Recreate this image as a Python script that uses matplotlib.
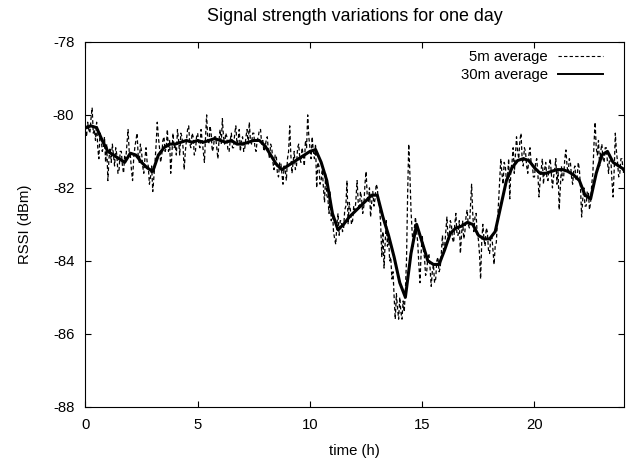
import numpy as np
import matplotlib
matplotlib.use("Agg")
import matplotlib.pyplot as plt

plt.rcParams['font.family'] = ['Liberation Sans', 'DejaVu Sans']
plt.rcParams['font.size'] = 10.7
plt.rcParams['axes.unicode_minus'] = False

# 5 minute average, one value every 0.05 h (one row per hour)
rssi_5m = [
    -80.3, -80.6, -80.2, -80.4, -80.5, -80.1, -79.8, -80.5, -80.4, -80.7, -80.2, -80.9, -81.2, -80.5, -80.6, -81.0, -80.9, -80.6, -81.3, -80.8,
    -81.8, -81.2, -80.9, -81.3, -80.8, -81.1, -81.4, -80.9, -81.1, -81.6, -81.5, -81.0, -81.0, -81.4, -81.6, -81.1, -81.2, -80.8, -80.4, -81.0,
    -81.1, -81.5, -81.8, -81.2, -80.9, -80.7, -80.5, -81.1, -81.3, -80.8, -81.0, -81.4, -81.6, -81.2, -80.9, -81.3, -81.4, -81.9, -81.7, -81.4,
    -82.1, -81.7, -81.3, -80.8, -80.2, -80.6, -80.9, -81.3, -81.1, -80.7, -80.6, -81.0, -80.9, -80.4, -81.0, -80.7, -81.6, -81.1, -80.5, -80.9,
    -80.8, -81.1, -80.4, -80.7, -81.1, -80.5, -80.6, -80.9, -81.5, -81.0, -80.7, -80.4, -80.3, -80.8, -80.9, -80.5, -80.6, -81.1, -81.0, -80.6,
    -80.5, -80.8, -80.9, -80.4, -80.7, -81.0, -81.3, -80.6, -80.0, -80.7, -80.8, -80.3, -80.5, -81.0, -80.9, -80.6, -80.6, -80.9, -81.2, -80.7,
    -80.4, -80.8, -80.1, -80.6, -80.8, -80.5, -80.6, -81.0, -81.0, -80.7, -80.5, -80.9, -80.9, -80.5, -80.3, -80.8, -80.7, -80.4, -81.0, -80.7,
    -80.6, -81.0, -80.9, -80.6, -80.4, -80.8, -80.2, -80.7, -80.8, -80.5, -80.5, -80.9, -81.0, -80.7, -80.6, -80.4, -80.4, -80.8, -80.7, -81.0,
    -80.9, -80.7, -80.6, -81.0, -81.2, -80.8, -80.9, -81.3, -81.5, -81.1, -81.1, -81.6, -81.7, -81.3, -81.3, -81.6, -81.9, -81.4, -81.5, -81.8,
    -81.2, -81.0, -80.3, -81.1, -81.6, -81.3, -81.0, -81.5, -81.4, -80.9, -80.8, -81.2, -81.3, -80.9, -81.1, -81.4, -80.7, -80.9, -80.0, -80.6,
    -80.9, -81.2, -80.6, -81.0, -81.2, -80.8, -82.0, -81.3, -81.4, -81.9, -81.8, -81.5, -82.0, -82.4, -81.6, -82.2, -82.3, -82.7, -82.1, -82.9,
    -82.6, -83.2, -83.4, -83.55, -83.0, -82.7, -83.3, -82.9, -82.9, -83.2, -83.1, -82.6, -82.5, -81.8, -83.0, -82.4, -82.6, -83.0, -82.9, -82.5,
    -82.7, -82.3, -81.8, -82.4, -82.6, -82.1, -82.3, -82.7, -82.5, -81.9, -81.55, -82.2, -82.4, -82.0, -82.8, -82.4, -82.1, -82.5, -82.3, -81.9,
    -82.0, -82.4, -82.5, -83.0, -83.9, -83.2, -84.2, -83.5, -82.9, -83.6, -83.3, -84.0, -83.9, -84.5, -84.3, -85.0, -85.6, -84.9, -85.3, -85.6,
    -85.0, -85.4, -85.6, -85.1, -85.4, -84.8, -84.0, -82.2, -80.8, -81.6, -82.6, -83.2, -83.6, -83.1, -82.8, -83.2, -83.5, -84.1, -84.6, -83.8,
    -83.3, -83.7, -83.9, -84.4, -84.3, -83.9, -83.8, -84.2, -84.7, -84.3, -84.1, -84.6, -84.5, -84.0, -83.9, -84.3, -84.2, -83.8, -83.3, -83.7,
    -83.6, -83.2, -82.8, -83.4, -83.4, -82.9, -83.0, -83.4, -83.5, -83.0, -82.7, -83.3, -83.3, -82.9, -83.8, -83.3, -82.9, -83.4, -83.2, -82.8,
    -82.6, -83.0, -83.1, -82.5, -81.9, -82.7, -83.2, -82.8, -82.7, -83.3, -83.4, -83.8, -84.5, -83.5, -83.0, -83.4, -83.6, -83.1, -83.2, -83.7,
    -83.8, -83.4, -83.3, -83.7, -84.1, -83.6, -83.5, -82.9, -82.4, -81.8, -81.2, -81.6, -81.9, -81.3, -81.4, -81.8, -81.7, -81.2, -82.3, -81.5,
    -81.3, -80.9, -81.6, -81.1, -80.6, -81.0, -81.2, -80.7, -80.5, -81.2, -81.4, -80.9, -81.0, -81.4, -81.6, -81.1, -80.9, -81.3, -81.3, -81.7,
    -81.7, -81.3, -81.2, -81.6, -82.25, -81.8, -81.5, -81.2, -81.9, -81.5, -81.3, -81.7, -81.8, -81.4, -81.2, -81.6, -82.0, -81.7, -81.5, -81.2,
    -81.9, -81.5, -82.6, -82.0, -81.4, -81.8, -81.7, -81.2, -80.96, -81.4, -81.6, -81.2, -81.3, -81.7, -81.9, -81.5, -81.4, -81.8, -81.7, -81.3,
    -81.5, -82.0, -82.8, -82.3, -82.0, -82.5, -82.5, -82.1, -82.1, -82.6, -82.4, -81.9, -81.6, -80.8, -80.2, -80.9, -81.1, -80.7, -81.4, -81.0,
    -80.8, -81.2, -81.3, -80.9, -80.9, -81.3, -81.6, -81.1, -81.2, -81.8, -82.25, -81.5, -80.5, -81.0, -81.3, -81.7, -81.6, -81.2, -81.2, -81.6,
    -81.5,
]
t_5m = np.arange(len(rssi_5m)) * 0.05

# 30 minute average, one value every 0.25 h
rssi_30m = [
    -80.35, -80.3, -80.35, -80.7, -81.0, -81.1, -81.2, -81.3,
    -81.05, -81.1, -81.3, -81.45, -81.55, -81.1, -80.9, -80.8,
    -80.8, -80.75, -80.7, -80.75, -80.7, -80.75, -80.7, -80.65,
    -80.7, -80.75, -80.7, -80.8, -80.8, -80.75, -80.7, -80.7,
    -80.85, -81.1, -81.35, -81.5, -81.4, -81.3, -81.2, -81.1,
    -81.0, -80.95, -81.3, -81.8, -82.7, -83.15, -83.0, -82.8,
    -82.65, -82.5, -82.35, -82.2, -82.2, -82.8, -83.3, -83.9,
    -84.6, -85.0, -83.8, -83.0, -83.5, -84.0, -84.1, -84.1,
    -83.7, -83.25, -83.1, -83.05, -82.95, -83.0, -83.3, -83.4,
    -83.4, -83.2, -82.5, -81.8, -81.45, -81.25, -81.2, -81.25,
    -81.45, -81.6, -81.6, -81.55, -81.5, -81.5, -81.55, -81.65,
    -81.8, -82.2, -82.3, -81.6, -81.1, -81.0, -81.3, -81.4,
    -81.5,
]
t_30m = np.arange(len(rssi_30m)) * 0.25

x_ticks = [0, 5, 10, 15, 20]
y_ticks = [-78, -80, -82, -84, -86, -88]

fig = plt.figure(figsize=(6.34, 4.68), dpi=100)
ax = fig.add_axes([0.1347, 0.131, 0.85, 0.7793])

ax.plot(t_5m, rssi_5m, color='black', linewidth=0.9, linestyle=(0, (3, 2)),
        label='5m average')
ax.plot(t_30m, rssi_30m, color='black', linewidth=2.2, label='30m average')

ax.set_xlim(0, 24)
ax.set_ylim(-88, -78)
ax.set_xticks(x_ticks)
ax.set_yticks(y_ticks)
ax.tick_params(direction='in', top=True, right=True, length=4, width=0.8,
               pad=8)

ax.set_title('Signal strength variations for one day', pad=15)
ax.set_xlabel('time (h)', labelpad=9)
ax.set_ylabel('RSSI (dBm)', labelpad=15)

leg = ax.legend(loc='upper right', bbox_to_anchor=(0.9605, 0.978),
                frameon=False, markerfirst=False, handlelength=3.0,
                labelspacing=0.3, borderaxespad=0, borderpad=0,
                handletextpad=0.7)
# key samples are drawn thinner than the plotted curves
leg.get_lines()[0].set_linewidth(0.8)
leg.get_lines()[1].set_linewidth(1.4)

fig.savefig('out.png', dpi=100)
